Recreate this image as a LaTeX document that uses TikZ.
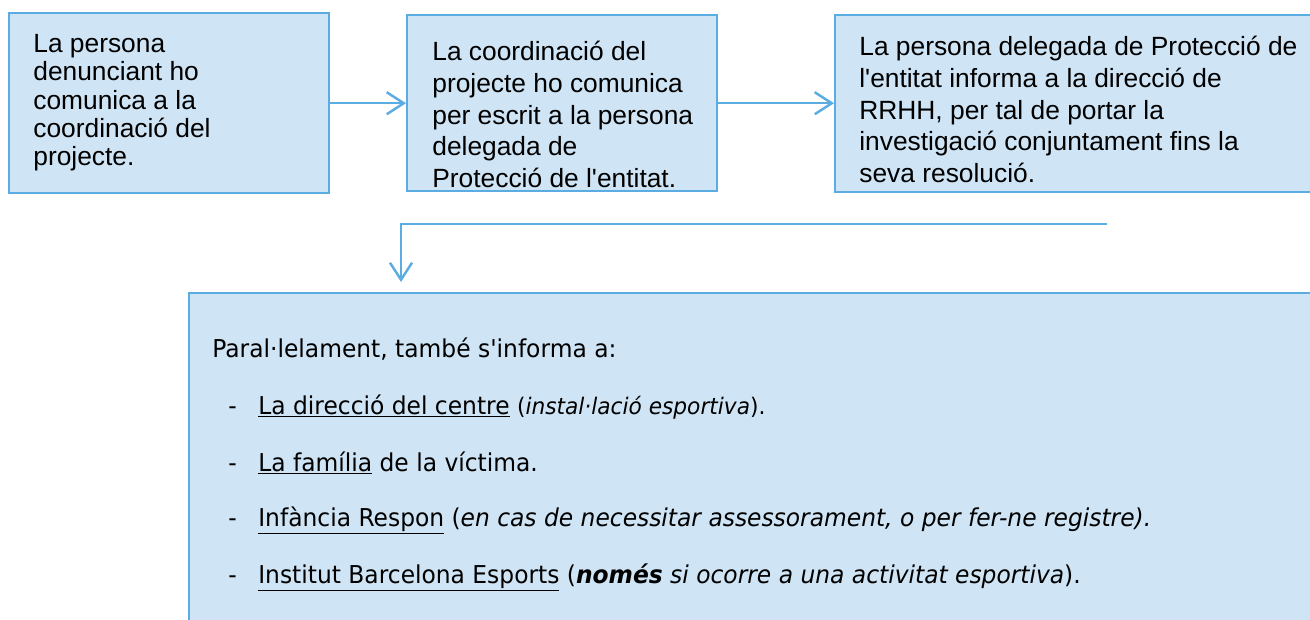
\documentclass[tikz,border=0pt]{standalone}
\usepackage{fontspec}
\setmainfont{Liberation Sans}
\newfontfamily\boxfont{Liberation Sans}
\newfontfamily\listfont[FakeStretch=0.95]{DejaVu Sans}
\usetikzlibrary{arrows.meta, positioning}
\definecolor{boxfill}{HTML}{CFE4F4}
\definecolor{boxline}{HTML}{5BACE2}

\begin{document}
\begin{tikzpicture}[x=0.02cm, y=-0.02cm,
  box/.style={draw=boxline, fill=boxfill, line width=1.4pt, inner sep=0pt, anchor=north west},
  txt/.style={anchor=north west, inner sep=0pt, align=left},
  arr/.style={draw=boxline, line width=1.4pt, -{Straight Barb[length=0.34cm, width=0.44cm]}},
  item/.style={anchor=base west, inner sep=0pt, font=\listfont\fontsize{14}{17}\selectfont}]

  % Page frame
  \useasboundingbox (0,0) rectangle (1310,619);
  \clip (0,0) rectangle (1310,619);

  % Top row of steps
  \node[box, minimum width=6.4cm, minimum height=3.6cm] (b1) at (8,12) {};
  \node[box, minimum width=6.2cm, minimum height=3.52cm] (b2) at (406,14) {};
  \node[box, minimum width=10cm, minimum height=3.54cm] (b3) at (834,14) {};

  \node[txt, font=\boxfont\fontsize{15}{16.1}\selectfont] (t1) at (33,34)
    {La persona\\denunciant ho\\comunica a la\\coordinació del\\projecte.};
  \node[txt, font=\boxfont\fontsize{15}{18}\selectfont] (t2) at (432,41)
    {La coordinació del\\projecte ho comunica\\per escrit a la persona\\delegada de\\Protecció de l'entitat.};
  \node[txt, font=\boxfont\fontsize{15}{18}\selectfont] (t3) at (859,36)
    {La persona delegada de Protecció de\\l'entitat informa a la direcció de\\RRHH, per tal de portar la\\investigació conjuntament fins la\\seva resolució.};

  % Arrows between the steps
  \draw[arr] (b1.east) -- (b1.east -| b2.west);
  \draw[arr] (b2.east) -- (b2.east -| b3.west);

  % Bottom box
  \node[box, minimum width=24cm, minimum height=8cm] (b4) at (188,292) {};

  \coordinate (c1) at (1107,224);
  \coordinate (c2) at (401,224);
  \draw[arr, shorten >=0.2cm] (c1) -- (c2) -- (c2 |- b4.north);

  % List inside the bottom box
  \node[item] (p0) at (212,357) {Paral·lelament, també s'informa a:};
  \node[item] (d1) at (228,414) {-};
  \node[item] (i1) at (258,414) {\underline{La direcció del centre} {\fontsize{13}{15}\selectfont(\textit{instal·lació esportiva}).}};
  \node[item] (d2) at (228,471) {-};
  \node[item] (i2) at (258,471) {\underline{La família} de la víctima.};
  \node[item] (d3) at (228,526) {-};
  \node[item] (i3) at (258,526) {\underline{Infància Respon} (\textit{en cas de necessitar assessorament, o per fer-ne registre).}};
  \node[item] (d4) at (228,583) {-};
  \node[item] (i4) at (258,583) {\underline{Institut Barcelona Esports} (\textbf{\textit{només}} \textit{si ocorre a una activitat esportiva}).};
\end{tikzpicture}
\end{document}
